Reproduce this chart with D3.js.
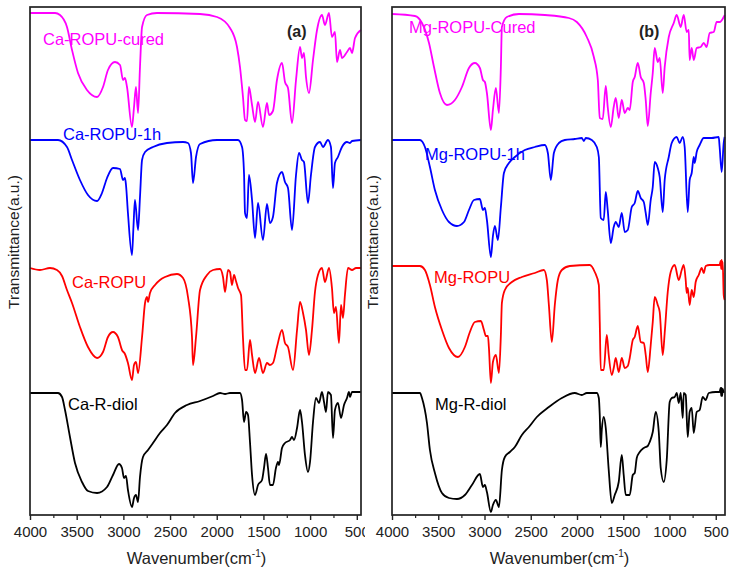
<!DOCTYPE html>
<html>
<head>
<meta charset="utf-8">
<script src="https://cdn.jsdelivr.net/npm/d3@7"></script>
<style>
  html, body { margin: 0; padding: 0; background: #fff; }
  svg { display: block; font-family: "Liberation Sans", Arial, sans-serif; }
</style>
</head>
<body>
<svg id="chart" width="732" height="572"></svg>
<script>
// ---------------- DATA (wavenumber cm-1, transmittance a.u. incl. vertical offset) ----------------
const xTicks = [4000, 3500, 3000, 2500, 2000, 1500, 1000, 500];
const xMinorTicks = [3750, 3250, 2750, 2250, 1750, 1250, 750];

// Panel (a) - Ca series
const caCured = [[4000,125.5],[3732,125.5],[3679,125],[3604,122],[3550,116.25],[3486,110.5],[3390,106.25],[3282,104.5],[3218,107],[3165,111.25],[3090,113.25],[3036,112.5],[3004,108.75],[2983,109.25],[2961,107],[2908,97],[2886,102],[2865,107],[2843,100.5],[2822,112],[2800,122],[2747,125],[2640,125.5],[2179,125.25],[1997,124.5],[1858,121.75],[1783,117],[1751,112],[1719,104.5],[1697,98.75],[1676,98.5],[1655,107],[1622,102.5],[1590,98.25],[1558,103.25],[1505,97],[1462,103],[1440,100],[1398,101],[1355,108.75],[1301,113],[1269,108.25],[1237,106.75],[1194,98],[1151,108.75],[1108,117],[1087,114.25],[1066,115.5],[1044,109.5],[1012,105.5],[969,113.75],[926,121.25],[873,125],[841,122.5],[798,125.5],[766,119.5],[734,120.75],[712,113.25],[680,116.25],[658,114.25],[605,115.75],[573,116.75],[551,115.5],[519,119.25],[455,121.25]];
const ca1h = [[4000,93.75],[3700,93.75],[3604,92],[3550,88.75],[3465,83.75],[3379,80],[3282,78.5],[3229,80.5],[3175,84.25],[3111,86.75],[3036,86.5],[3004,83.75],[2983,84.25],[2972,82.5],[2951,75.5],[2908,65],[2892,72],[2876,78.75],[2843,71.25],[2822,79.5],[2800,88.75],[2768,90.75],[2683,92],[2533,93],[2361,93.25],[2308,93],[2276,90.5],[2254,83],[2222,89.5],[2179,92.75],[1997,93.75],[1772,93.75],[1729,92],[1708,85.5],[1697,75.5],[1676,74.25],[1655,85],[1622,78.75],[1590,69.25],[1558,78],[1505,68.75],[1462,77.75],[1430,73],[1398,74.5],[1355,83],[1301,85.75],[1269,83.25],[1237,81.75],[1194,71.25],[1151,85],[1119,90.5],[1087,88.75],[1066,88.25],[1023,78],[991,85],[948,92],[894,93.25],[862,92],[809,93.75],[777,92],[755,81.75],[734,88],[702,89.5],[659,92],[605,93.25],[573,93],[551,93.5],[455,93.75]];
const caRopu = [[4000,61.75],[3893,61.25],[3786,61.75],[3711,61.25],[3657,59.75],[3604,56.25],[3550,53],[3465,47],[3379,42],[3282,39.25],[3218,40.75],[3165,44.5],[3111,45.75],[3058,44.5],[3015,41.25],[2983,40.25],[2951,38],[2908,33.75],[2886,37.5],[2865,38.25],[2843,35.5],[2800,44.5],[2768,53],[2747,54.5],[2736,53.25],[2715,55.5],[2661,57.5],[2608,58.75],[2554,59.5],[2426,60.25],[2361,59.25],[2308,54.5],[2265,44.5],[2254,37.5],[2222,44.5],[2179,56.25],[2104,60],[2040,61.25],[1965,61.5],[1933,59.5],[1911,55.75],[1879,61.25],[1858,60.75],[1837,57.5],[1815,60],[1794,58.5],[1772,56.75],[1740,55],[1719,44.25],[1697,36.25],[1676,36.25],[1644,43.75],[1622,40],[1590,35.5],[1547,39.25],[1505,35.5],[1462,38],[1430,37.5],[1398,38],[1355,42],[1301,46.25],[1269,43],[1237,42],[1183,36.25],[1140,46.25],[1108,53.25],[1076,50.5],[1044,46.25],[1012,40],[980,46.25],[948,55.75],[916,60],[873,61.75],[841,58.25],[798,61.75],[766,56.75],[745,50.5],[723,52],[691,43],[669,52.5],[648,49.25],[627,55],[594,61.75],[551,61.25],[508,61.75],[455,61.75]];
const caDiol = [[4000,30.5],[3700,30.5],[3657,29.5],[3625,26.25],[3572,19.5],[3518,13],[3443,8.25],[3379,6],[3282,5.5],[3175,7],[3111,10],[3047,12.75],[3015,11.75],[2993,9.25],[2972,9.75],[2951,6.25],[2908,2],[2886,4.25],[2865,5],[2843,3.25],[2822,9.5],[2790,14.5],[2736,16.25],[2683,18],[2608,20.5],[2533,22.5],[2447,25.5],[2319,27.5],[2179,28.5],[2040,29.75],[1965,30.5],[1911,30.25],[1858,30.5],[1751,30.5],[1729,28.75],[1708,23.25],[1686,25.75],[1665,25],[1644,18.25],[1622,10],[1590,5],[1558,7.5],[1515,8.75],[1494,11.75],[1472,15.25],[1451,11.75],[1430,7.5],[1398,7.5],[1366,11.75],[1344,13.25],[1333,12.5],[1301,16.75],[1269,18],[1215,18.75],[1194,19.5],[1173,18.75],[1140,21.75],[1108,26.25],[1087,23.25],[1055,15],[1023,10.75],[1001,13.25],[969,23.25],[937,29.25],[905,28],[873,30.75],[851,28.25],[830,25.75],[809,30.75],[777,30],[755,19.25],[734,26.25],[702,28],[669,24.25],[637,27.5],[605,29.25],[584,30.75],[573,29.5],[551,30.75],[455,30.75]];

// Panel (b) - Mg series
const mgCured = [[4000,125.25],[3752,124.75],[3676,123],[3600,118],[3546,112],[3482,105.5],[3406,102.5],[3320,103.75],[3244,107],[3168,111.75],[3104,113],[3050,111.75],[3017,108.75],[2996,108.25],[2974,105.5],[2931,96.25],[2909,101.25],[2877,106.75],[2844,100.5],[2823,112],[2812,122],[2758,124.5],[2628,125.25],[2348,125],[2088,124.25],[2002,123.25],[1894,119.5],[1818,114.5],[1775,108.75],[1754,99.25],[1722,99],[1689,107.25],[1668,102],[1635,97],[1603,102],[1581,104.25],[1549,99.25],[1516,103.75],[1484,100.5],[1451,101.75],[1430,101.25],[1397,108.25],[1376,109.5],[1343,113],[1311,109.5],[1278,108],[1257,103.75],[1235,97.25],[1203,105.5],[1181,110.5],[1160,116.75],[1127,113.25],[1106,114.25],[1073,105.5],[1052,112],[1008,119.5],[954,123],[922,125],[879,122],[846,125],[814,120.75],[792,121.25],[782,113.75],[760,116.75],[738,113.75],[706,116.75],[663,117],[630,118],[598,117],[566,120.5],[522,120.75],[490,123.25],[458,123.25],[414,124.5],[404,125]];
const mg1h = [[4000,93.75],[3698,93.75],[3644,92],[3590,87],[3536,81.25],[3460,76.25],[3384,73.25],[3298,72.25],[3222,73.25],[3168,76.25],[3114,78.75],[3050,79],[3017,76.25],[2996,76.75],[2974,73.75],[2931,64.5],[2909,69.75],[2888,72.25],[2855,68.75],[2823,77],[2790,85.5],[2736,88],[2672,89.5],[2564,91.25],[2456,92],[2348,92.5],[2315,90.5],[2283,83.75],[2250,90.5],[2196,93],[2132,93.75],[2024,94],[1948,94.25],[1926,93.5],[1905,94.25],[1840,93.75],[1786,92],[1764,89.5],[1743,74.25],[1711,73.75],[1689,80.75],[1668,76.25],[1635,68],[1603,72],[1581,73.25],[1549,72],[1516,75.5],[1484,70.75],[1451,71.25],[1408,77],[1376,78],[1343,81],[1311,79.25],[1278,78.25],[1257,75.5],[1235,72.5],[1203,78.75],[1181,82],[1160,88.25],[1127,86.75],[1106,84.5],[1073,75.75],[1052,83.75],[1008,89.5],[976,93],[922,94.5],[890,93],[857,94.5],[836,92],[803,75.75],[782,83.75],[760,85.5],[738,89.5],[728,88],[706,90.75],[674,92.5],[630,94.25],[544,94.25],[468,94.5],[458,92],[436,85.75],[414,93],[404,94.5]];
const mgRopu = [[4000,62.25],[3698,62.25],[3644,61.25],[3590,57.5],[3536,52],[3460,46.25],[3384,41.75],[3287,39.5],[3212,42],[3158,45.75],[3104,48.25],[3039,48.5],[3006,46.25],[2985,44.75],[2963,44.75],[2952,41.75],[2931,33],[2909,38.25],[2877,40],[2844,35.5],[2823,45],[2812,53],[2780,56.25],[2704,58.25],[2596,59.5],[2456,60.5],[2358,61.25],[2326,58.75],[2304,52.5],[2272,43.25],[2240,52.5],[2207,58.75],[2164,61.25],[2078,62.25],[1862,62.5],[1808,60.75],[1764,57.5],[1754,48.25],[1743,36.25],[1711,36.25],[1678,45],[1657,40],[1624,35],[1603,36.75],[1581,39.25],[1549,35.75],[1516,39.25],[1484,36.75],[1451,37.25],[1430,39.25],[1397,43.75],[1376,44.5],[1343,47.25],[1311,43.25],[1278,43],[1257,40],[1235,35.75],[1203,42.5],[1181,48.25],[1160,54.5],[1127,52.5],[1106,50.75],[1073,40],[1052,45.5],[1019,55.75],[987,60.75],[944,62.5],[900,58.75],[868,61.25],[846,62.5],[825,58.75],[814,55.5],[803,56.75],[782,52.5],[760,56.25],[738,54.5],[717,58.25],[684,60],[652,61.75],[630,60.5],[609,62.25],[566,62.5],[458,62.5],[447,63.5],[441,61.5],[436,63.75],[431,61.5],[425,63.25],[414,55],[404,53.75]];
const mgDiol = [[4000,30.5],[3698,30.5],[3676,29.25],[3622,23],[3590,16.25],[3536,10.5],[3460,5.5],[3384,4.25],[3298,4],[3212,5],[3136,7.5],[3050,10.25],[3017,7],[2996,7.5],[2974,5.75],[2931,0.75],[2909,2.5],[2877,3.75],[2844,2],[2812,11.25],[2780,14.5],[2726,15.75],[2672,17],[2596,20],[2520,22],[2434,24.5],[2304,27],[2164,29.25],[2024,30.5],[1948,30],[1894,30.5],[1786,30.5],[1764,29.25],[1754,25],[1743,17],[1732,21.25],[1711,24.5],[1689,21.75],[1657,11.25],[1624,3],[1592,5],[1549,8.25],[1516,15],[1495,10],[1473,5],[1430,5],[1397,10],[1376,10.5],[1354,14.25],[1322,15.75],[1278,16.75],[1235,17.25],[1214,18.25],[1181,20.75],[1149,25.75],[1116,20.75],[1095,11.75],[1062,8.25],[1030,13.75],[998,28.25],[976,29.25],[944,29.5],[922,30.5],[900,28],[879,30.5],[857,24.25],[846,30.5],[825,30],[803,19.5],[782,25.75],[760,26.75],[738,20.5],[706,25.75],[674,26.25],[641,29.5],[609,28.75],[576,30.5],[501,30.75],[458,30.75],[447,31.75],[441,29.75],[436,31.75],[431,29.75],[425,31.5],[414,30.75],[404,30.75]];

const panels = [
  { id: "a", tag: "(a)", x0: 30, x1: 361, domain: [4000, 455],
    series: [
      { name: "Ca-ROPU-cured", data: caCured, color: "#ff00ff", lx: 43, ly: 45 },
      { name: "Ca-ROPU-1h",    data: ca1h,    color: "#0000ff", lx: 63, ly: 140 },
      { name: "Ca-ROPU",       data: caRopu,  color: "#ff0000", lx: 72, ly: 288 },
      { name: "Ca-R-diol",     data: caDiol,  color: "#000000", lx: 68, ly: 410 }
    ], tagX: 287, ylabX: 14, clipW: 365 },
  { id: "b", tag: "(b)", x0: 392, x1: 725, domain: [4000, 400],
    series: [
      { name: "Mg-ROPU-Cured", data: mgCured, color: "#ff00ff", lx: 409, ly: 33 },
      { name: "Mg-ROPU-1h",    data: mg1h,    color: "#0000ff", lx: 425, ly: 160 },
      { name: "Mg-ROPU",       data: mgRopu,  color: "#ff0000", lx: 434, ly: 283 },
      { name: "Mg-R-diol",     data: mgDiol,  color: "#000000", lx: 435, ly: 410 }
    ], tagX: 639, ylabX: 373, clipW: 732 }
];

// ---------------- DRAW ----------------
const svg = d3.select("#chart");
const yTop = 7, yBot = 515;
const y = d3.scaleLinear().domain([0, 127]).range([yBot, yTop]);

panels.forEach((p, i) => {
  const clipId = "clip-" + p.id;
  const x0Clip = i === 0 ? 0 : 364;
  svg.append("clipPath").attr("id", clipId)
    .append("rect").attr("x", x0Clip).attr("y", 0).attr("width", p.clipW - x0Clip).attr("height", 572);
  const g = svg.append("g").attr("clip-path", `url(#${clipId})`);

  const x = d3.scaleLinear().domain(p.domain).range([p.x0, p.x1]);

  // spectra
  const line = d3.line().x(d => x(d[0])).y(d => y(d[1])).curve(d3.curveMonotoneX);
  p.series.forEach(s => {
    g.append("path").datum(s.data)
      .attr("d", line).attr("fill", "none")
      .attr("stroke", s.color).attr("stroke-width", 1.8)
      .attr("stroke-linejoin", "round");
    g.append("text").attr("x", s.lx).attr("y", s.ly)
      .attr("fill", s.color).attr("font-size", 16.5).text(s.name);
  });

  // frame
  g.append("rect").attr("x", p.x0).attr("y", yTop)
    .attr("width", p.x1 - p.x0).attr("height", yBot - yTop)
    .attr("fill", "none").attr("stroke", "#222").attr("stroke-width", 1.7);

  // bottom axis
  const ax = g.append("g").attr("transform", `translate(0,${yBot})`)
    .call(d3.axisBottom(x).tickValues(xTicks).tickFormat(d3.format("d")).tickSize(5).tickPadding(6));
  ax.select(".domain").remove();
  ax.selectAll("line").attr("stroke", "#222").attr("stroke-width", 1.4);
  ax.selectAll("text").attr("font-size", 15).attr("fill", "#222")
    .attr("font-family", '"Liberation Sans", Arial, sans-serif');
  const axm = g.append("g").attr("transform", `translate(0,${yBot})`)
    .call(d3.axisBottom(x).tickValues(xMinorTicks).tickFormat("").tickSize(3));
  axm.select(".domain").remove();
  axm.selectAll("line").attr("stroke", "#222").attr("stroke-width", 1.2);

  // axis titles
  const xt = g.append("text").attr("x", (p.x0 + p.x1) / 2 + 1).attr("y", 564)
    .attr("text-anchor", "middle").attr("font-size", 16.5).attr("fill", "#222");
  xt.append("tspan").text("Wavenumber(cm");
  xt.append("tspan").attr("font-size", 10).attr("dy", -7).text("-1");
  xt.append("tspan").attr("dy", 7).text(")");

  g.append("text").attr("transform", `translate(${p.ylabX + 5},242) rotate(-90)`)
    .attr("text-anchor", "middle").attr("font-size", 15.5).attr("fill", "#222")
    .text("Transmittance(a.u.)");

  // panel tag
  g.append("text").attr("x", p.tagX).attr("y", 37).attr("font-size", 16)
    .attr("font-weight", "bold").attr("fill", "#222").text(p.tag);
});
</script>
</body>
</html>
